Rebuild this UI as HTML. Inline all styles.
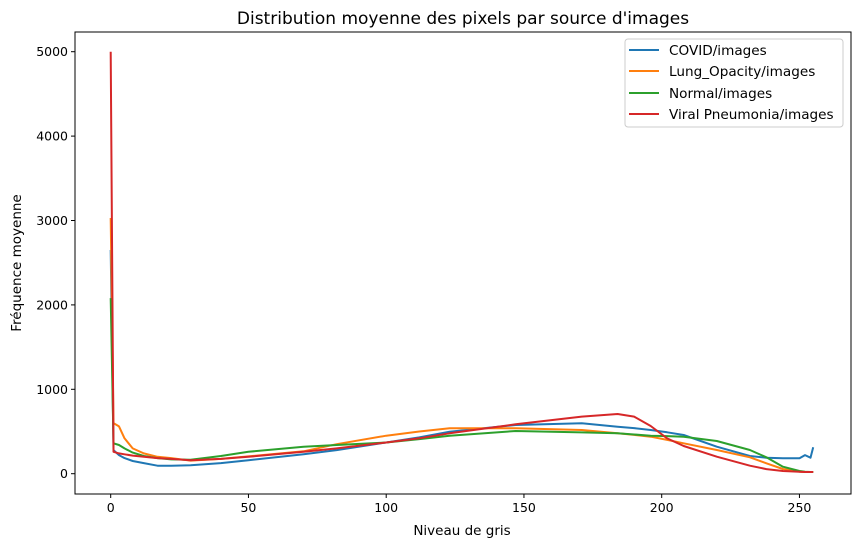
<!DOCTYPE html>
<html><head><meta charset="utf-8"><style>
body{margin:0;background:#fff;font-family:"Liberation Sans","DejaVu Sans",sans-serif;}
svg text{font-family:"DejaVu Sans","Liberation Sans",sans-serif;}
</style></head><body>
<svg id="chart" width="859" height="547" xmlns="http://www.w3.org/2000/svg">
<rect x="0" y="0" width="859" height="547" fill="#fff"/>
<text x="463" y="24" text-anchor="middle" font-size="17">Distribution moyenne des pixels par source d'images</text>
<g id="plot"></g>
<text x="462" y="535" text-anchor="middle" font-size="13.5">Niveau de gris</text>
<text transform="translate(21,263) rotate(-90)" text-anchor="middle" font-size="13.5">Fréquence moyenne</text>
<g>
<rect x="625" y="39" width="218" height="88" rx="3" fill="#fff" stroke="#ccc"/>
<line x1="629" y1="50" x2="659" y2="50" stroke="#1f77b4" stroke-width="2"/><text x="669" y="55" font-size="13.6">COVID/images</text>
<line x1="629" y1="71" x2="659" y2="71" stroke="#ff7f0e" stroke-width="2"/><text x="669" y="76" font-size="13.6">Lung_Opacity/images</text>
<line x1="629" y1="93" x2="659" y2="93" stroke="#2ca02c" stroke-width="2"/><text x="669" y="98" font-size="13.6">Normal/images</text>
<line x1="629" y1="114" x2="659" y2="114" stroke="#d62728" stroke-width="2"/><text x="669" y="119" font-size="13.6">Viral Pneumonia/images</text>
</g>
</svg>
<script>
const grayLevels=[0,1,3,5,8,12,17,22,29,40,50,70,82,100,112,123,147,171,184,190,196,202,208,220,232,238,244,250,252,254,255];
const covid=[2650,280,220,185,150,125,95,95,100,125,160,230,280,370,430,498,577,597,557,540,518,490,459,320,210,190,182,182,220,190,313];
const lungOpacity=[3030,600,560,420,300,240,200,185,155,175,205,265,350,450,500,538,538,518,479,460,438,400,360,281,194,123,56,24,20,20,20];
const normal=[2080,360,340,300,250,210,185,170,165,210,260,320,340,370,410,450,506,489,479,465,450,445,438,387,281,194,83,32,22,20,20];
const viral=[5000,260,240,230,215,200,185,175,160,175,200,260,300,370,420,479,585,676,707,676,565,418,328,202,95,55,32,24,20,20,20];
const xTicks=[0,50,100,150,200,250];
const yTicks=[0,1000,2000,3000,4000,5000];
const L=75,R=851,T=32,B=494;
const xs=v=>110.7+v*2.755;
const ys=v=>473.7-v*0.0844;
const NS="http://www.w3.org/2000/svg";
const g=document.getElementById('plot');
function mk(t,a){const e=document.createElementNS(NS,t);for(const k in a)e.setAttribute(k,a[k]);g.appendChild(e);return e;}
const series=[[covid,'#1f77b4','line-covid'],[lungOpacity,'#ff7f0e','line-lung-opacity'],[normal,'#2ca02c','line-normal'],[viral,'#d62728','line-viral-pneumonia']];
series.forEach(s=>{
 const d=s[0].map((v,i)=>(i?'L':'M')+xs(grayLevels[i]).toFixed(1)+','+ys(v).toFixed(1)).join(' ');
 const p=mk('path',{d:d,fill:'none',stroke:s[1],'stroke-width':2,'stroke-linejoin':'round'});
 
 
});
const fr=mk('rect',{x:L,y:T,width:R-L,height:B-T,fill:'none',stroke:'#000','stroke-width':1});


xTicks.forEach(v=>{
 const x=xs(v);
 mk('line',{x1:x,y1:B,x2:x,y2:B+4,stroke:'#000'});
 const t=mk('text',{x:x,y:B+18,'text-anchor':'middle','font-size':12.5});
 t.textContent=v;
 
 
});
yTicks.forEach(v=>{
 const y=ys(v);
 mk('line',{x1:L-4,y1:y,x2:L,y2:y,stroke:'#000'});
 const t=mk('text',{x:L-7,y:y+4.5,'text-anchor':'end','font-size':12.5});
 t.textContent=v;
 
 
});
</script>
</body></html>
